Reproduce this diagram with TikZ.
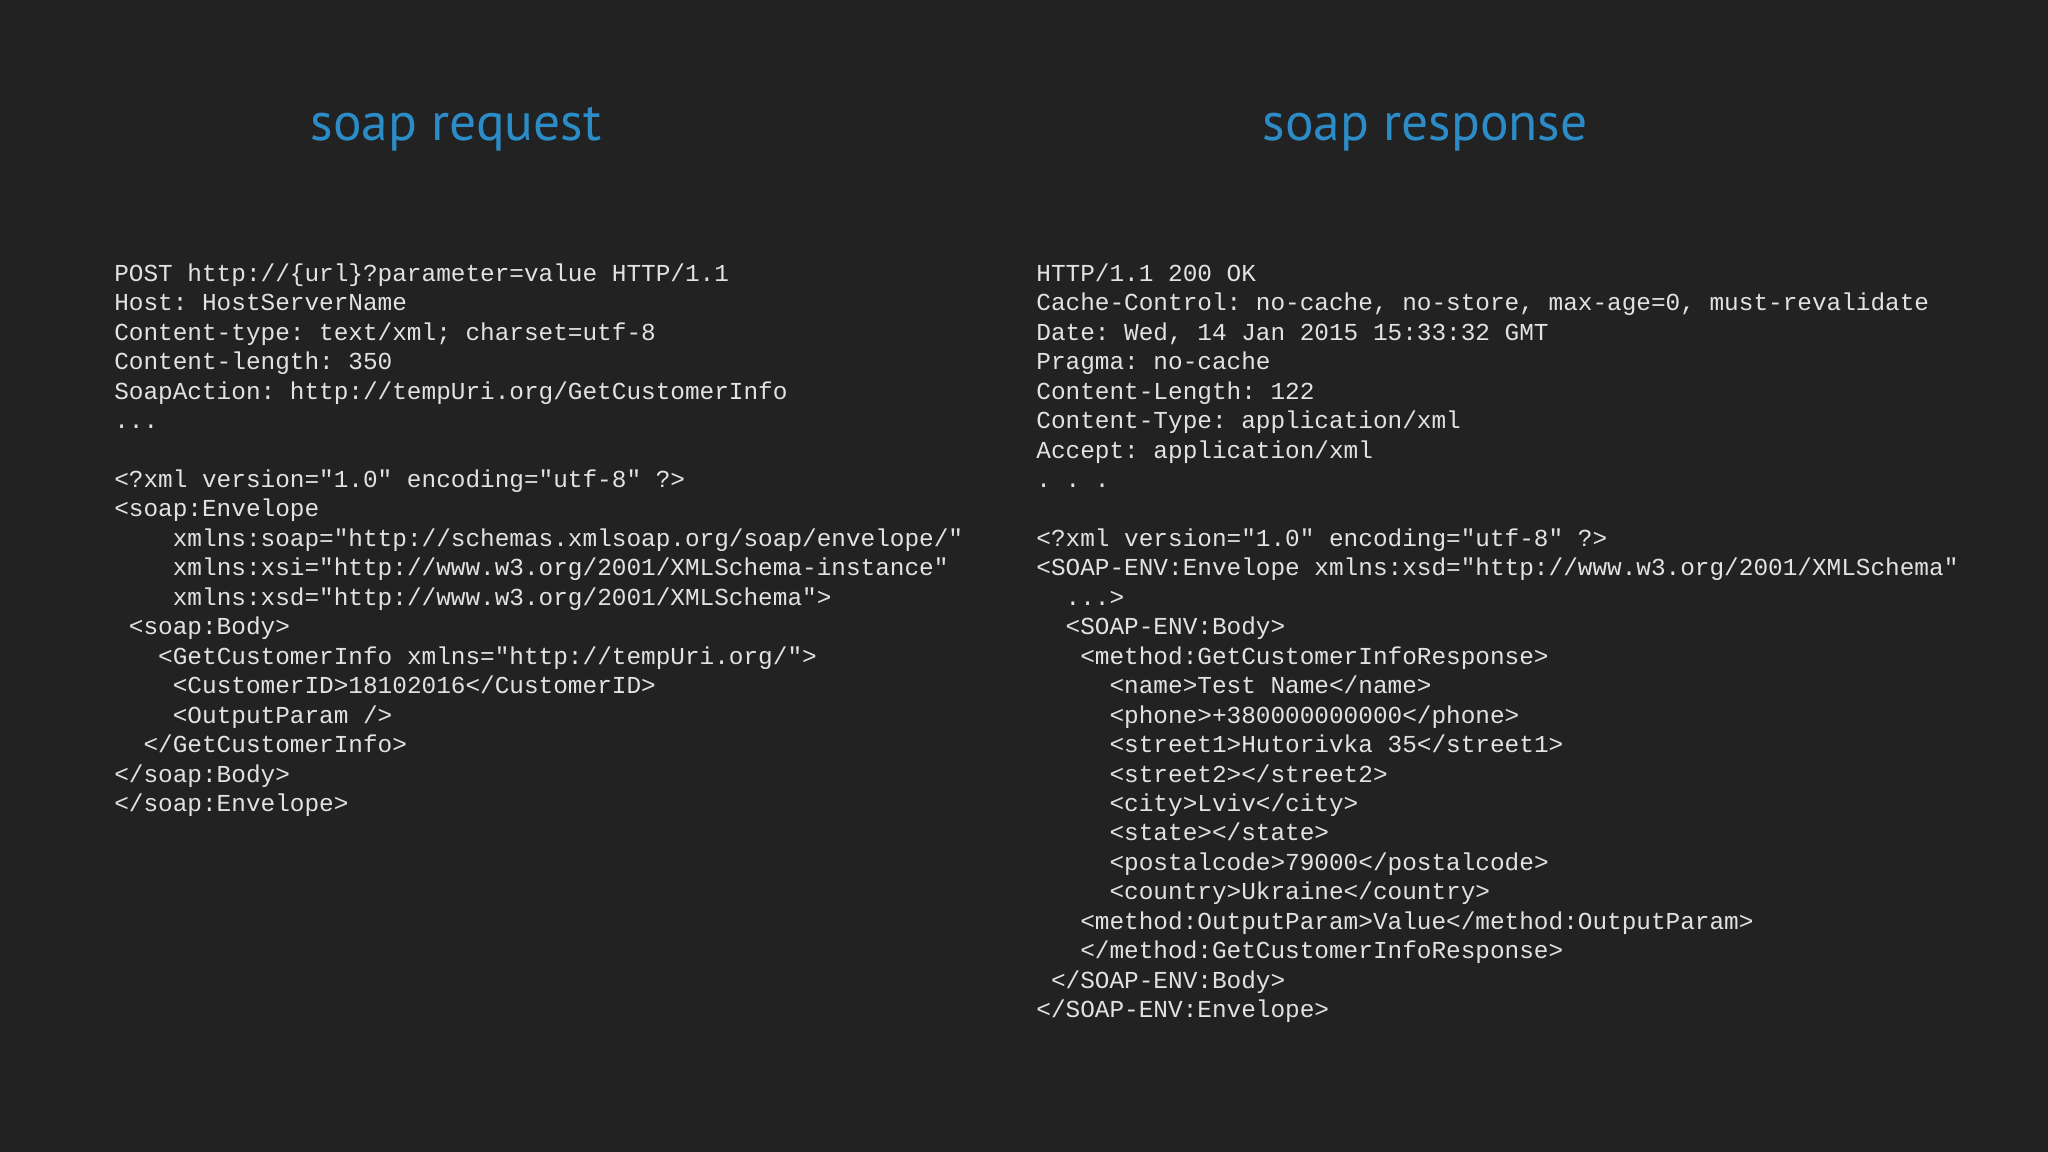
\documentclass[tikz,border=0pt]{standalone}
\usepackage{fontspec}
\setmainfont{PT Sans}
\setmonofont{Liberation Mono}
\definecolor{bg}{HTML}{222222}
\definecolor{ttl}{HTML}{2C8CC8}
\definecolor{code}{HTML}{E2E2E2}
\begin{document}
\begin{tikzpicture}[x=1cm,y=1cm,
  title/.style={anchor=base,inner sep=0,text=ttl,font=\fontsize{15.2pt}{18pt}\selectfont},
  codeblock/.style={anchor=north west,inner sep=0,align=left,text=code,font=\ttfamily\fontsize{6.94pt}{8.38pt}\selectfont}]
\fill[bg] (0,0) rectangle (20.48,11.52);
\useasboundingbox (0,0) rectangle (20.48,11.52);
\node[title] (t1) at (4.56,10.11) {soap request};
\node[title] (t2) at (14.25,10.11) {soap response};
\node[codeblock] (req) at (1.136,8.89) {POST http://\{url\}?parameter=value HTTP/1.1\\
Host: HostServerName\\
Content-type: text/xml; charset=utf-8\\
Content-length: 350\\
SoapAction: http://tempUri.org/GetCustomerInfo\\
...\\
\strut\\
<?xml version="1.0" encoding="utf-8" ?>\\
<soap:Envelope\\
\ \ \ \ xmlns:soap="http://schemas.xmlsoap.org/soap/envelope/"\\
\ \ \ \ xmlns:xsi="http://www.w3.org/2001/XMLSchema-instance"\\
\ \ \ \ xmlns:xsd="http://www.w3.org/2001/XMLSchema">\\
\ <soap:Body>\\
\ \ \ <GetCustomerInfo xmlns="http://tempUri.org/">\\
\ \ \ \ <CustomerID>18102016</CustomerID>\\
\ \ \ \ <OutputParam />\\
\ \ </GetCustomerInfo>\\
</soap:Body>\\
</soap:Envelope>};
\node[codeblock] (resp) at (10.357,8.89) {HTTP/1.1 200 OK\\
Cache-Control: no-cache, no-store, max-age=0, must-revalidate\\
Date: Wed, 14 Jan 2015 15:33:32 GMT\\
Pragma: no-cache\\
Content-Length: 122\\
Content-Type: application/xml\\
Accept: application/xml\\
. . .\\
\strut\\
<?xml version="1.0" encoding="utf-8" ?>\\
<SOAP-ENV:Envelope xmlns:xsd="http://www.w3.org/2001/XMLSchema"\\
\ \ ...>\\
\ \ <SOAP-ENV:Body>\\
\ \ \ <method:GetCustomerInfoResponse>\\
\ \ \ \ \ <name>Test Name</name>\\
\ \ \ \ \ <phone>+380000000000</phone>\\
\ \ \ \ \ <street1>Hutorivka 35</street1>\\
\ \ \ \ \ <street2></street2>\\
\ \ \ \ \ <city>Lviv</city>\\
\ \ \ \ \ <state></state>\\
\ \ \ \ \ <postalcode>79000</postalcode>\\
\ \ \ \ \ <country>Ukraine</country>\\
\ \ \ <method:OutputParam>Value</method:OutputParam>\\
\ \ \ </method:GetCustomerInfoResponse>\\
\ </SOAP-ENV:Body>\\
</SOAP-ENV:Envelope>};
\end{tikzpicture}
\end{document}
